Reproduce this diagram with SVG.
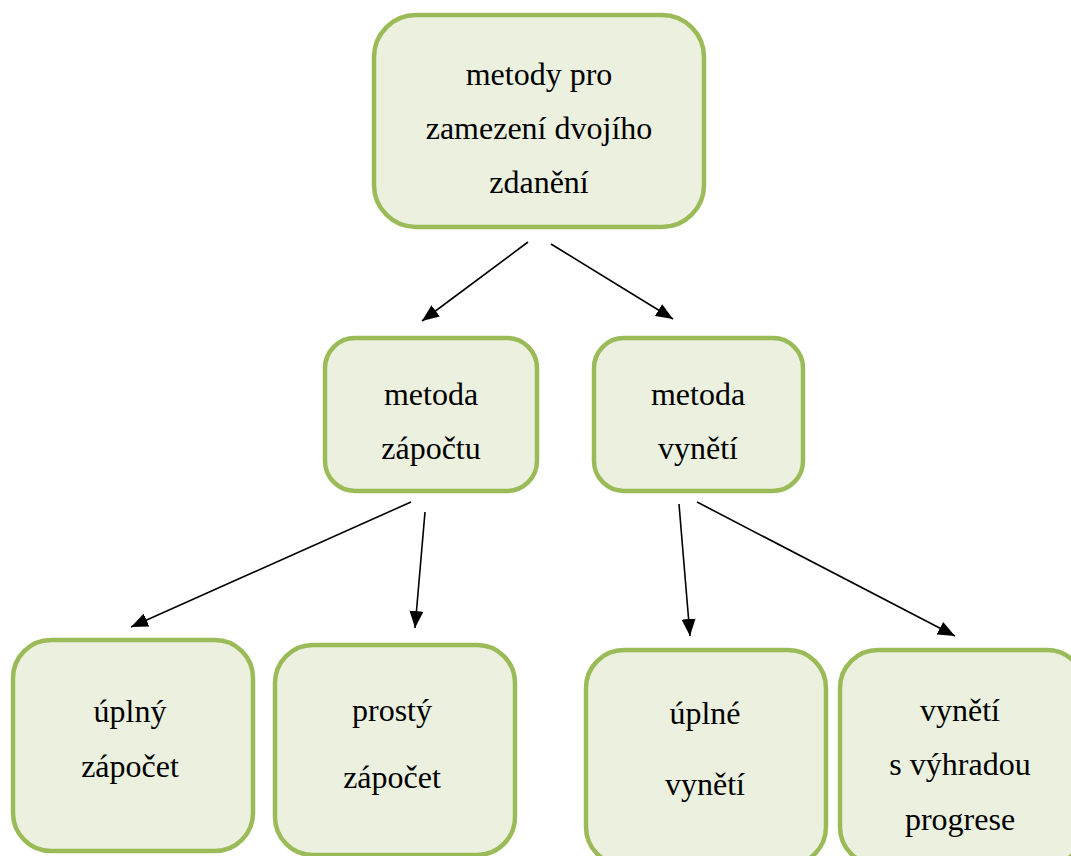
<svg xmlns="http://www.w3.org/2000/svg" width="1071" height="856" viewBox="0 0 1071 856">
<style>
.box{fill:#ebf1de;stroke:#9bbb59;stroke-width:4.5}
.t{font-family:"Liberation Serif","Times New Roman",serif;font-size:32px;fill:#000;text-anchor:middle}
.c{stroke:#000;stroke-width:1.6;fill:none;marker-end:url(#ah)}
</style>
<defs>
<marker id="ah" viewBox="0 0 10 10" refX="10" refY="5" markerWidth="17" markerHeight="14" markerUnits="userSpaceOnUse" orient="auto" preserveAspectRatio="none">
<path d="M0,0 L10,5 L0,10 Z" fill="#000"/>
</marker>
</defs>
<rect width="1071" height="856" fill="#fff"/>
<g id="connectors">
<line class="c" x1="528" y1="242" x2="422" y2="321"/>
<line class="c" x1="551" y1="244" x2="673" y2="319"/>
<line class="c" x1="411" y1="502" x2="131" y2="627"/>
<line class="c" x1="425" y1="512" x2="415" y2="628"/>
<line class="c" x1="679" y1="504" x2="690" y2="636"/>
<line class="c" x1="697" y1="502" x2="955" y2="636"/>
</g>
<g id="n-root">
<rect class="box" x="374" y="15" width="330" height="212" rx="42"/>
<text class="t" x="539" y="85">metody pro</text>
<text class="t" x="539" y="139">zamezení dvojího</text>
<text class="t" x="539" y="193">zdanění</text>
</g>
<g id="n-zapocet">
<rect class="box" x="325" y="338" width="212" height="153" rx="30"/>
<text class="t" x="431" y="405">metoda</text>
<text class="t" x="431" y="459">zápočtu</text>
</g>
<g id="n-vyneti">
<rect class="box" x="594" y="338" width="209" height="153" rx="30"/>
<text class="t" x="698" y="405">metoda</text>
<text class="t" x="698" y="459">vynětí</text>
</g>
<g id="n-uplny">
<rect class="box" x="13" y="640" width="240" height="211" rx="38"/>
<text class="t" x="130" y="722">úplný</text>
<text class="t" x="130" y="777">zápočet</text>
</g>
<g id="n-prosty">
<rect class="box" x="275" y="645" width="240" height="210" rx="38"/>
<text class="t" x="392" y="721">prostý</text>
<text class="t" x="392" y="788">zápočet</text>
</g>
<g id="n-uplne">
<rect class="box" x="586" y="650" width="240" height="215" rx="38"/>
<text class="t" x="705" y="724">úplné</text>
<text class="t" x="705" y="795">vynětí</text>
</g>
<g id="n-progrese">
<rect class="box" x="840" y="650" width="245" height="215" rx="38"/>
<text class="t" x="960" y="721">vynětí</text>
<text class="t" x="960" y="775">s výhradou</text>
<text class="t" x="960" y="830">progrese</text>
</g>
</svg>
